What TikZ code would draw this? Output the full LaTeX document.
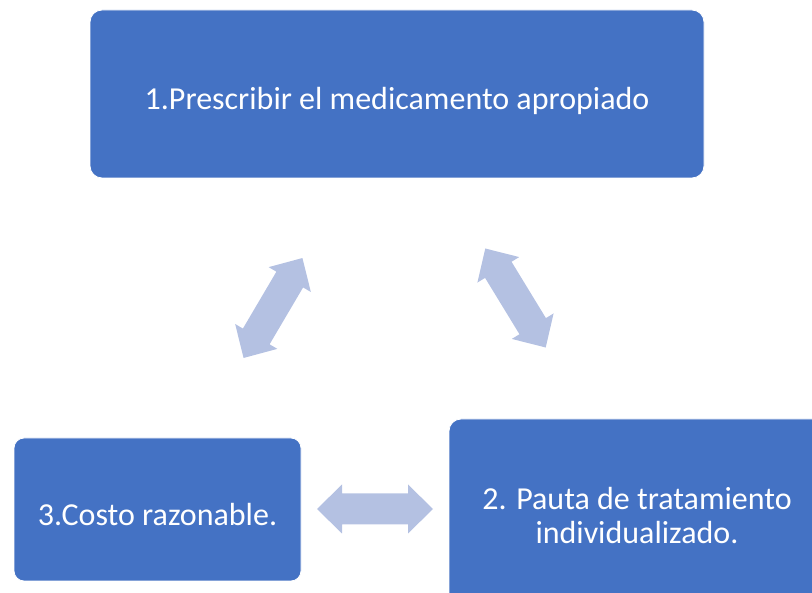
\documentclass[tikz,border=0pt]{standalone}
\usepackage{fontspec}
\setmainfont{Carlito}
\definecolor{boxblue}{RGB}{68,114,196}
\definecolor{arrowblue}{RGB}{180,193,226}
\begin{document}
\begin{tikzpicture}[x=1pt, y=-1pt,
  box/.style={fill=boxblue, draw=white, line width=0.8pt, rounded corners=12pt,
    text=white, font=\fontsize{32}{34}\selectfont, align=center, inner sep=0pt},
  oneline/.style={text height=36pt, text depth=4pt},
  flecha/.pic={\fill[arrowblue] (-58,0) -- (-33,-24.5) -- (-33,-15.5) -- (33,-15.5) -- (33,-24.5)
    -- (58,0) -- (33,24.5) -- (33,15.5) -- (-33,15.5) -- (-33,24.5) -- cycle;}]
\clip (0,0) rectangle (812,593);
\node (prescribir) [box, oneline, minimum width=614pt, minimum height=168pt] at (397,94) {1.Prescribir el medicamento apropiado};
\node (pauta) [box, minimum width=376pt, minimum height=194pt] at (637,516) {2. Pauta de tratamiento\\individualizado.};
\node (costo) [box, oneline, minimum width=287pt, minimum height=143pt, rounded corners=10pt] at (157.5,509.5) {3.Costo razonable.};
\pic (izq) [rotate=59.5] at (273,308) {flecha};
\pic (der) [rotate=-58.6] at (515.5,298) {flecha};
\pic (abajo) at (375,509) {flecha};
\end{tikzpicture}
\end{document}
